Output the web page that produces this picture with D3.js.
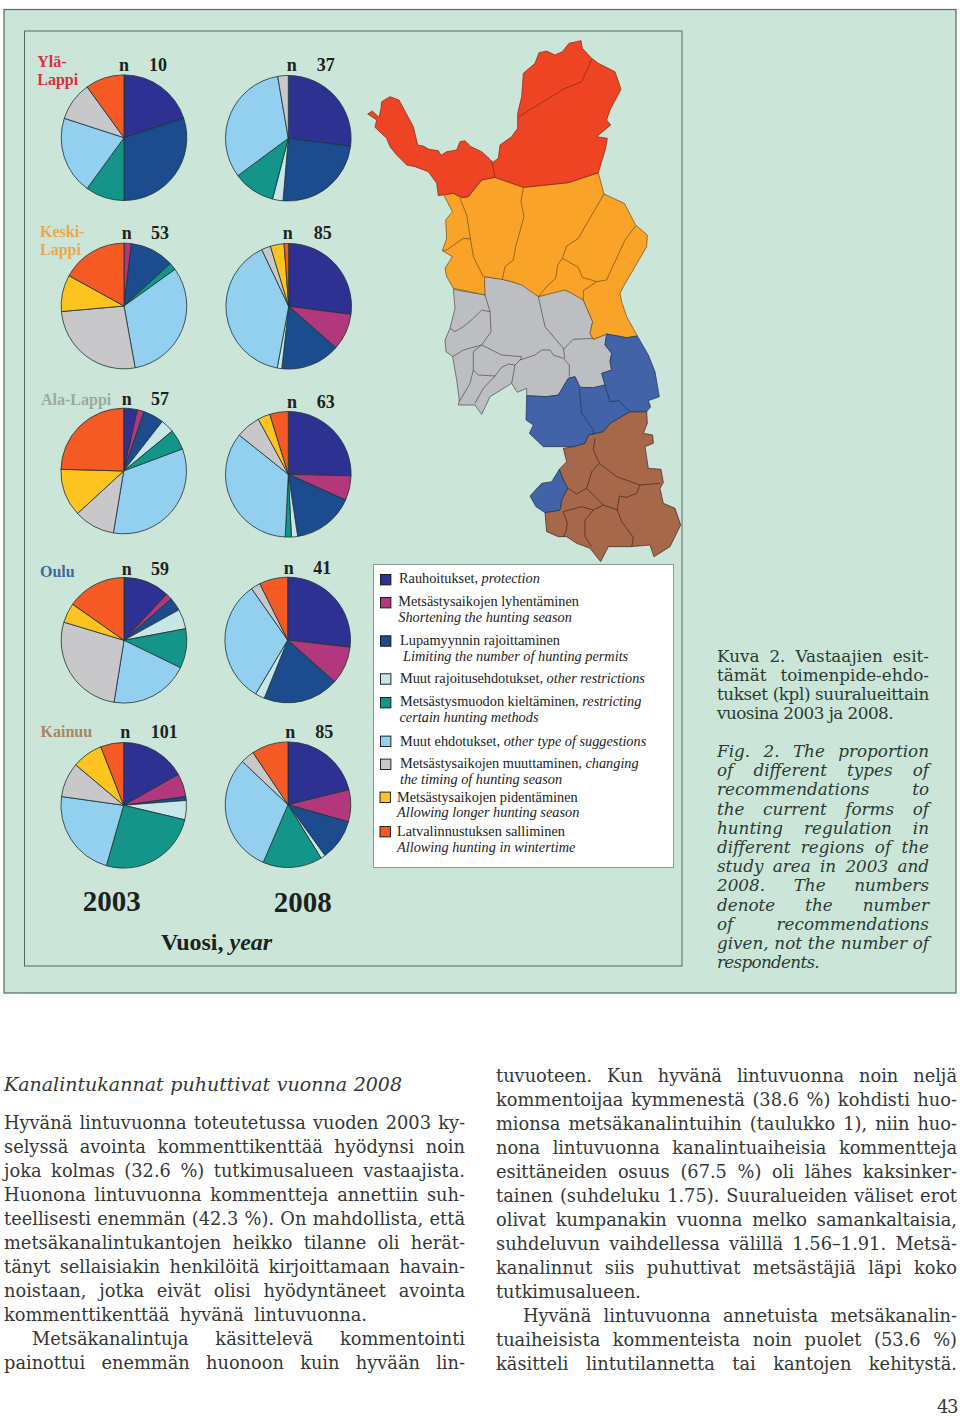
<!DOCTYPE html>
<html><head><meta charset="utf-8">
<script src="https://d3js.org/d3.v7.min.js"></script>
<style>html,body{margin:0;padding:0;background:#fff}svg{display:block}</style>
</head><body><svg id="c" width="960" height="1416" viewBox="0 0 960 1416"></svg>
<script>
// ---------- data ----------
const categories = ["protection","shortening","limitPermits","otherRestrictions","restrictMethods","otherSuggestions","timing","longerSeason","wintertime"];
const categoryColors = ["#2e3192","#b2377c","#1c4c8e","#c9e6e6","#14958a","#93cfee","#c8c8cb","#fdc31f","#f55a24"];
const regions = ["Ylä-Lappi","Keski-Lappi","Ala-Lappi","Oulu","Kainuu"];
const counts2003 = [
  [2,0,3,0,1,2,1,0,1],
  [0,1,6,0,1,17,14,5,9],
  [2,1,3,2,3,19,6,7,14],
  [7,1,2,3,6,12,16,3,9],
  [17,6,1,5,26,23,9,8,6]
];
const counts2008 = [
  [10,0,9,1,4,12,1,0,0],
  [23,8,13,1,0,34,2,3,1],
  [16,4,10,1,1,22,4,2,3],
  [11,4,8,1,0,13,1,0,3],
  [18,7,9,1,13,26,3,0,8]
];
const n2003 = [10,53,57,59,101];
const n2008 = [37,85,63,41,85];
const legendItems = [
  [["Rauhoitukset, ","protection"]],
  [["Metsästysaikojen lyhentäminen",""],["","Shortening the hunting season"]],
  [["Lupamyynnin rajoittaminen",""],["","Limiting the number of hunting permits"]],
  [["Muut rajoitusehdotukset, ","other restrictions"]],
  [["Metsästysmuodon kieltäminen, ","restricting"],["","certain hunting methods"]],
  [["Muut ehdotukset, ","other type of suggestions"]],
  [["Metsästysaikojen muuttaminen, ","changing"],["","the timing of hunting season"]],
  [["Metsästysaikojen pidentäminen",""],["","Allowing longer hunting season"]],
  [["Latvalinnustuksen salliminen",""],["","Allowing hunting in wintertime"]]
];
// map outlines: tracing units (north sheet / south sheet)
const mapRedOutline = [[8,252],[22,243],[42,262],[48,235],[50,215],[75,200],[102,210],[118,240],[145,290],[158,345],[175,348],[192,358],[220,362],[228,376],[245,365],[275,360],[285,335],[300,332],[318,350],[350,365],[372,385],[382,398],[400,385],[405,345],[440,320],[458,295],[458,250],[470,200],[475,130],[510,100],[522,68],[545,63],[570,75],[592,65],[612,40],[648,32],[652,55],[680,85],[700,100],[750,125],[768,178],[735,240],[725,270],[737,285],[695,320],[727,325],[722,355],[700,428],[610,458],[475,472],[390,442],[350,450],[310,500],[290,503],[265,490],[220,497],[215,460],[190,425],[150,410],[125,405],[95,375],[75,350],[65,325],[30,292],[35,270]];
const mapRedLines = [[[458,262],[600,175],[650,155],[680,88]],[[380,390],[390,442]]];
const mapOrangeOutline = [[235,492],[265,490],[290,503],[310,500],[350,450],[390,442],[475,472],[610,458],[700,428],[717,492],[778,520],[812,585],[847,615],[845,650],[810,710],[775,770],[765,790],[770,815],[785,860],[817,918],[785,923],[725,912],[685,928],[675,910],[683,875],[655,810],[620,790],[600,780],[560,790],[520,800],[470,765],[440,755],[410,748],[358,740],[360,795],[265,775],[245,740],[240,715],[262,680],[232,662],[245,625],[242,570],[262,545]];
const mapOrangeLines = [
  [[285,505],[305,555],[316,625],[325,680],[355,740]],
  [[316,627],[295,625],[245,660],[232,662]],
  [[475,472],[468,515],[477,560],[452,650],[445,690],[420,710],[412,748]],
  [[717,492],[660,590],[640,625],[605,648],[592,685],[578,705],[572,745],[545,770],[520,800]],
  [[592,685],[640,712],[652,742],[695,755]],
  [[812,587],[780,630],[750,695],[725,750],[695,755],[655,782],[655,810]]
];
const mapGrayOutline = [[70,28],[165,45],[160,-10],[215,-3],[245,5],[300,20],[325,50],[400,28],[430,40],[460,60],[488,125],[480,160],[490,178],[530,162],[525,195],[545,220],[540,245],[545,270],[515,280],[525,315],[490,323],[450,322],[435,290],[415,295],[385,345],[350,350],[290,347],[290,325],[262,337],[245,310],[180,350],[155,403],[135,375],[85,375],[88,360],[80,300],[68,230],[48,215],[45,180],[60,145],[75,85]];
const mapGrayLines = [
  [[165,45],[180,95],[183,155],[155,195],[100,210],[68,230]],
  [[180,95],[155,90],[130,115],[100,140],[75,155],[60,145]],
  [[155,195],[130,215],[130,270],[145,285],[195,288],[215,262],[235,252],[255,255],[270,240],[315,225],[335,210],[360,210],[370,225],[400,235],[418,255],[418,290]],
  [[155,195],[215,225],[275,230],[270,240]],
  [[130,270],[120,310],[88,365]],
  [[195,288],[160,325],[135,370]],
  [[325,50],[345,140],[400,205],[405,235]],
  [[400,208],[430,178],[490,175]],
  [[255,255],[245,310]]
];
const mapBlueOutline = [[530,162],[590,173],[622,168],[655,225],[675,275],[688,350],[655,362],[662,380],[650,395],[600,395],[540,430],[520,455],[475,465],[465,490],[430,500],[340,500],[298,460],[310,435],[288,420],[290,347],[350,350],[385,345],[415,295],[435,290],[450,322],[490,323],[525,315],[515,280],[545,270],[540,245],[545,220],[525,195]];
const mapBlueIslandOutline = [[300,648],[335,610],[365,605],[388,568],[400,600],[413,625],[395,660],[390,690],[345,698],[318,680]];
const mapBlueLines = [[[448,325],[455,400],[490,450],[490,463]],[[525,315],[540,365],[565,362],[600,395]]];
const mapBrownOutline = [[600,395],[650,395],[652,430],[640,460],[668,465],[670,490],[645,500],[655,565],[693,568],[700,608],[690,625],[700,670],[735,685],[752,735],[720,800],[672,830],[660,795],[600,800],[535,800],[512,845],[480,805],[440,790],[410,770],[385,770],[350,755],[345,698],[390,690],[395,660],[413,625],[400,600],[388,568],[410,545],[400,505],[430,500],[465,490],[475,465],[520,455],[540,430]];
const mapBrownLines = [
  [[495,475],[490,510],[508,550],[485,575],[470,625],[440,642],[415,625]],
  [[508,550],[560,590],[630,615],[620,640],[590,652],[568,648],[562,690],[520,675],[470,625]],
  [[630,615],[690,610]],
  [[562,690],[575,725],[610,772],[605,800]],
  [[520,675],[490,690],[465,720],[465,770],[485,800]],
  [[490,690],[455,680],[400,695],[412,730],[408,755],[400,770]]
];
// text: [string, right edge]
const captionFi = [["Kuva 2. Vastaajien esit-",929],["tämät toimenpide-ehdo-",929],["tukset (kpl) suuralueittain",929],["vuosina 2003 ja 2008.",893]];
const captionEn = [["Fig. 2. The proportion",929],["of different types of",929],["recommendations to",929],["the current forms of",929],["hunting regulation in",929],["different regions of the",929],["study area in 2003 and",929],["2008. The numbers",929],["denote the number",929],["of recommendations",929],["given, not the number of",929],["respondents.",819]];
const bodyLeft = [["Hyvänä lintuvuonna toteutetussa vuoden 2003 ky-",465],["selyssä avointa kommenttikenttää hyödynsi noin",465],["joka kolmas (32.6 %) tutkimusalueen vastaajista.",465],["Huonona lintuvuonna kommentteja annettiin suh-",465],["teellisesti enemmän (42.3 %). On mahdollista, että",465],["metsäkanalintukantojen heikko tilanne oli herät-",465],["tänyt sellaisiakin henkilöitä kirjoittamaan havain-",465],["noistaan, jotka eivät olisi hyödyntäneet avointa",465],["kommenttikenttää hyvänä lintuvuonna.",367],["Metsäkanalintuja käsittelevä kommentointi",465,32],["painottui enemmän huonoon kuin hyvään lin-",465]];
const bodyRight = [["tuvuoteen. Kun hyvänä lintuvuonna noin neljä",957],["kommentoijaa kymmenestä (38.6 %) kohdisti huo-",957],["mionsa metsäkanalintuihin (taulukko 1), niin huo-",957],["nona lintuvuonna kanalintuaiheisia kommentteja",957],["esittäneiden osuus (67.5 %) oli lähes kaksinker-",957],["tainen (suhdeluku 1.75). Suuralueiden väliset erot",957],["olivat kumpanakin vuonna melko samankaltaisia,",957],["suhdeluvun vaihdellessa välillä 1.56–1.91. Metsä-",957],["kanalinnut siis puhuttivat metsästäjiä läpi koko",957],["tutkimusalueen.",641],["Hyvänä lintuvuonna annetuista metsäkanalin-",957,523],["tuaiheisista kommenteista noin puolet (53.6 %)",957],["käsitteli lintutilannetta tai kantojen kehitystä.",957]];

// ---------- layout ----------
const svg = d3.select("#c");
const PANEL = "#cbe6d8", FRAME = "#566a60", INK = "#1c2220", TIMES = "'Liberation Serif',serif", BOOK = "'DejaVu Serif',serif";
svg.append("rect").attr("width",960).attr("height",1416).attr("fill","#fff");
svg.append("rect").attr("x",4).attr("y",9.5).attr("width",952).attr("height",983.5).attr("fill",PANEL).attr("stroke",FRAME).attr("stroke-width",1.2);
svg.append("rect").attr("x",24.5).attr("y",31).attr("width",657.5).attr("height",935).attr("fill",PANEL).attr("stroke",FRAME).attr("stroke-width",1);

// ---------- map ----------
const nx = d3.scaleLinear().domain([0,960]).range([365,685]), ny = d3.scaleLinear().domain([0,840]).range([30,310]);
const sx = d3.scaleLinear().domain([0,780]).range([430,690]), sy = d3.scaleLinear().domain([0,855]).range([280,565]);
const northLine = d3.line().x(d=>nx(d[0])).y(d=>ny(d[1]));
const southLine = d3.line().x(d=>sx(d[0])).y(d=>sy(d[1]));
const mapG = svg.append("g").attr("stroke-linejoin","round");
function region(lineGen, outlines, lines, fill, stroke){
  outlines.forEach(o=>mapG.append("path").attr("d",lineGen(o)+"Z").attr("fill",fill).attr("stroke",stroke).attr("stroke-width",.7));
  lines.forEach(l=>mapG.append("path").attr("d",lineGen(l)).attr("fill","none").attr("stroke",stroke).attr("stroke-width",.7));
}
region(southLine,[mapGrayOutline],mapGrayLines,"#bcbec2","#4c4c50");
region(northLine,[mapOrangeOutline],mapOrangeLines,"#f9a428","#6e4a1c");
region(northLine,[mapRedOutline],mapRedLines,"#ef4424","#7e2414");
region(southLine,[mapBrownOutline],mapBrownLines,"#a7674a","#3e2618");
region(southLine,[mapBlueOutline,mapBlueIslandOutline],mapBlueLines,"#4263a8","#22304e");

// ---------- pies ----------
const pieX2003 = [124,124,123.7,124,123.7], pieX2008 = [288.3,288.7,288.3,287.7,288];
const pieY2003 = [137.7,306,471,640.3,805.3], pieY2008 = [138.3,306.3,474.3,640,804.7];
const R = 62.8;
const pie = d3.pie().sort(null).value(d=>d.v);
const arc = d3.arc().innerRadius(0).outerRadius(R);
function drawPie(vals,cx,cy){
  const slices = pie(vals.map((v,i)=>({v,i}))).filter(s=>s.data.v>0);
  svg.append("g").attr("transform",`translate(${cx},${cy})`)
    .selectAll("path").data(slices).join("path")
    .attr("d",arc).attr("fill",d=>categoryColors[d.data.i])
    .attr("stroke","#1a3434").attr("stroke-width",.8).attr("stroke-linejoin","round");
}
regions.forEach((r,i)=>{drawPie(counts2003[i],pieX2003[i],pieY2003[i]);drawPie(counts2008[i],pieX2008[i],pieY2008[i]);});

// ---------- labels ----------
function t(x,y,s,opt={}){
  return svg.append("text").attr("x",x).attr("y",y).text(s)
   .attr("font-family",opt.f||TIMES).attr("font-size",opt.size||18).attr("font-weight",opt.w||"bold")
   .attr("font-style",opt.i?"italic":"normal").attr("text-anchor",opt.a||"start").attr("fill",opt.c||INK);
}
const nLabelX2003=[124,126.7,126.7,126.7,125.3], numX2003=[158,160,160,160,164.3], nBase2003=[70.7,239,405,575,737.7];
const nLabelX2008=[291.7,287.7,292,288.7,290.3], numX2008=[325.7,322.7,325.7,322.3,324.3], nBase2008=[70.7,239,407.7,574,737.7];
regions.forEach((r,i)=>{
  t(nLabelX2003[i],nBase2003[i],"n",{a:"middle"}); t(numX2003[i],nBase2003[i],n2003[i],{a:"middle"});
  t(nLabelX2008[i],nBase2008[i],"n",{a:"middle"}); t(numX2008[i],nBase2008[i],n2008[i],{a:"middle"});
});
t(37.3,66.7,"Ylä-",{size:16,c:"#d9303f"}); t(37.3,85,"Lappi",{size:16,c:"#d9303f"});
t(40,237.3,"Keski-",{size:16,c:"#eaa84c"}); t(40,254.5,"Lappi",{size:16,c:"#eaa84c"});
t(41,405,"Ala-Lappi",{size:16,c:"#9ca8a4"});
t(40,576.7,"Oulu",{size:16,c:"#3f6a9e"});
t(40.5,736.7,"Kainuu",{size:16,c:"#a8865f"});
t(111.7,910.7,"2003",{size:29,a:"middle"});
t(302.7,911.7,"2008",{size:29,a:"middle"});
const vuosi=t(161,950,"Vuosi, ",{size:24});
vuosi.append("tspan").attr("font-style","italic").text("year");

// ---------- legend ----------
svg.append("rect").attr("x",373.5).attr("y",564.5).attr("width",300).attr("height",303).attr("fill","#fff").attr("stroke","#8b9c94").attr("stroke-width",1);
const swatchY=[579.7,602.7,641,679,702.7,741.3,764.3,797.3,831.7], swatchX=[380.5,380.5,380.5,380.5,380.5,380.5,380.5,380,380];
const legendX=[[399],[398.3,398.3],[400,403],[400],[400,399.5],[400],[400,400],[397,397],[397,397]];
const legendBase=[[583.3],[606,621.7],[645,660.7],[683.3],[706,722.3],[745.7],[768.3,784.3],[801.7,817.3],[836,852.3]];
legendItems.forEach((it,i)=>{
  svg.append("rect").attr("x",swatchX[i]).attr("y",swatchY[i]-5.2).attr("width",10.4).attr("height",10.4).attr("fill",categoryColors[i]).attr("stroke","#111").attr("stroke-width",.9);
  it.forEach((ln,j)=>{
    const e=svg.append("text").attr("x",legendX[i][j]).attr("y",legendBase[i][j]).attr("font-family",TIMES).attr("font-size",14.3).attr("fill","#222");
    if(ln[0]) e.append("tspan").text(ln[0]);
    if(ln[1]) e.append("tspan").attr("font-style","italic").text(ln[1]);
  });
});

// ---------- running text, justified by word spacing ----------
function justified(line,x0,y,opt){
  const s=line[0], right=line[1], x=line[2]||x0;
  const e=svg.append("text").attr("x",x).attr("y",y).text(s).attr("font-family",BOOK).attr("font-size",opt.size)
    .attr("font-style",opt.i?"italic":"normal").attr("fill",opt.c||"#333735").attr("font-weight","normal");
  const nat=e.node().getComputedTextLength(), target=right-x, gaps=s.split(" ").length-1;
  if(target>=nat && gaps>0) e.attr("word-spacing",(target-nat)/gaps);
  else e.attr("letter-spacing",(target-nat)/s.length);
}
captionFi.forEach((l,i)=>justified(l,717,661.7+i*19.2,{size:16.8,c:"#2c3a34"}));
captionEn.forEach((l,i)=>justified(l,717,757+i*19.2,{size:16.8,i:true,c:"#2c3a34"}));
justified(["Kanalintukannat puhuttivat vuonna 2008",402],4,1090.7,{size:19,i:true});
bodyLeft.forEach((l,i)=>justified(l,4,1129+i*24,{size:17.8}));
bodyRight.forEach((l,i)=>justified(l,496,1081.5+i*24,{size:17.8}));
justified(["43",957],937,1413,{size:18});
</script></body></html>
